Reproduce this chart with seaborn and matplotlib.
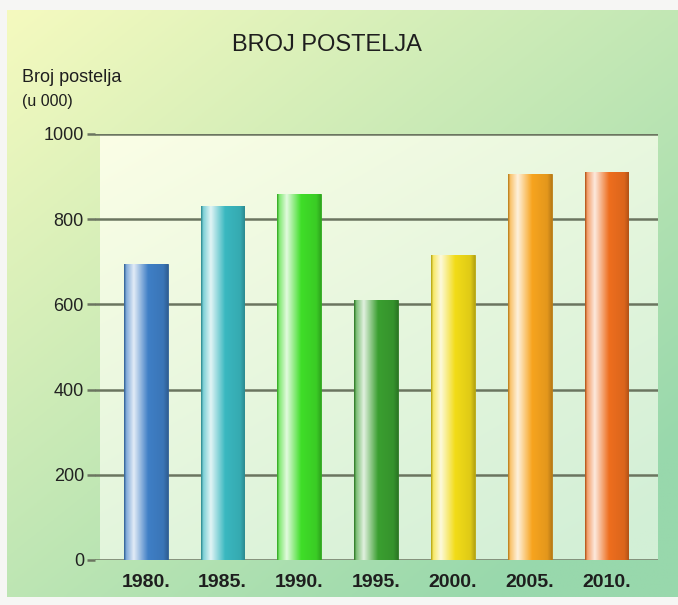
import numpy as np
import pandas as pd
import matplotlib
matplotlib.use("Agg")
import matplotlib.pyplot as plt
import seaborn as sns
from matplotlib.colors import to_rgb

years = ["1980.", "1985.", "1990.", "1995.", "2000.", "2005.", "2010."]
values = [695, 830, 860, 610, 715, 905, 910]
bar_colors = ["#3f7fc6", "#3ab8c0", "#3fde28", "#3a9f30", "#f2dc18", "#f7a41e", "#ee6e1e"]
yticks = [0, 200, 400, 600, 800, 1000]

sns.set_theme(style="white")
plt.rcParams['font.family'] = ['Liberation Sans', 'DejaVu Sans']

W, H = 678, 605
XL = (-0.66, 6.67)
fig = plt.figure(figsize=(W / 100, H / 100), dpi=100)
fig.patch.set_facecolor("#f6f6f4")

# outer gradient panel
bg = fig.add_axes([7 / W, 8 / H, 1 - 7 / W, 1 - 18 / H])
bg.set_axis_off()
gx, gy = np.meshgrid(np.linspace(0, 1, 200), np.linspace(0, 1, 200))
t = np.clip(0.55 * gx + 0.6 * gy, 0, 1)
c0 = np.array(to_rgb("#f5fabf"))
c1 = np.array(to_rgb("#98d8ac"))
img = c0[None, None, :] * (1 - t[..., None]) + c1[None, None, :] * t[..., None]
bg.imshow(img, aspect="auto", extent=[0, 1, 0, 1], origin="upper")
bg.set_xlim(0, 1); bg.set_ylim(0, 1)

ax = fig.add_axes([95 / W, 1 - 560 / H, (658 - 95) / W, (560 - 134) / H])
ax.patch.set_alpha(0)
df = pd.DataFrame({"year": years, "value": values})
sns.barplot(data=df, x="year", y="value", hue="year", palette=bar_colors,
            legend=False, width=0.57, ax=ax, saturation=1, zorder=3)

# inner pale gradient
c2 = np.array(to_rgb("#fbfee6"))
c3 = np.array(to_rgb("#d2efd6"))
t2 = np.clip(0.45 * gx + 0.6 * gy, 0, 1)
img2 = c2[None, None, :] * (1 - t2[..., None]) + c3[None, None, :] * t2[..., None]
ax.imshow(img2, aspect="auto", extent=[XL[0] + 0.07, XL[1], 0, 1000], origin="upper", zorder=0)

# cylindrical shading on bars
pos = np.array([0.0, 0.05, 0.22, 0.55, 0.9, 1.0])
for patch, col in zip(ax.patches, bar_colors):
    base = np.array(to_rgb(col))
    dark = base * 0.75
    light = base + (1 - base) * 0.85
    mid = base + (1 - base) * 0.35
    stops = [dark, mid, light, base, base * 0.92, dark]
    xs = np.linspace(0, 1, 100)
    row = np.stack([np.interp(xs, pos, [s[k] for s in stops]) for k in range(3)], axis=-1)
    grad = np.repeat(row[None, :, :], 2, axis=0)
    x0 = patch.get_x(); w = patch.get_width(); h = patch.get_height()
    im = ax.imshow(grad, aspect="auto", extent=[x0, x0 + w, 0, h], zorder=4, origin="upper")
    im.set_clip_path(patch)
    patch.set_edgecolor(tuple(dark))
    patch.set_linewidth(0.6)
ax.set_xlim(*XL)
ax.set_ylim(0, 1000)

for yv in yticks:
    ax.axhline(yv, color="#6b7560", lw=1.8, zorder=2, xmin=0, xmax=1)

ax.set_yticks(yticks)
ax.set_yticklabels([str(v) for v in yticks], fontsize=13, color="#222222")
ax.tick_params(axis="y", length=6, width=1.8, color="#6b7560", pad=2, left=True)
ax.tick_params(axis="x", length=0, pad=10)
for lbl in ax.get_xticklabels():
    lbl.set_fontsize(14)
    lbl.set_fontweight("bold")
    lbl.set_color("#1e1e1e")
ax.set_xlabel("")
ax.set_ylabel("")
for s in ax.spines.values():
    s.set_visible(False)

fig.text(327 / W, 1 - 45 / H, "BROJ POSTELJA", ha="center", va="center",
         fontsize=17, color="#1e1e1e")
fig.text(22 / W, 1 - 77 / H, "Broj postelja", ha="left", va="center",
         fontsize=13, color="#1e1e1e")
fig.text(22 / W, 1 - 101 / H, "(u 000)", ha="left", va="center",
         fontsize=11.5, color="#1e1e1e")

fig.savefig("out.png", dpi=100)
